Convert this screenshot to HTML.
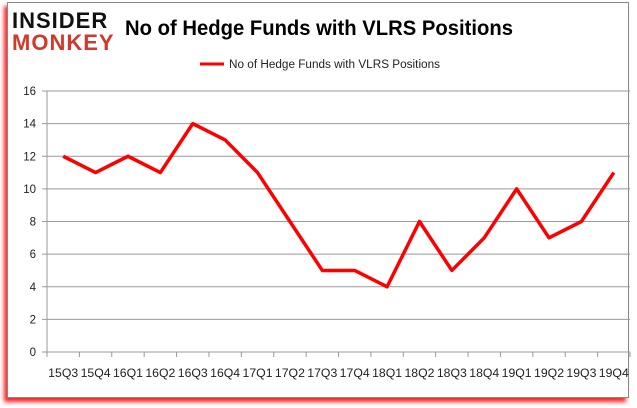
<!DOCTYPE html>
<html><head><meta charset="utf-8"><style>
body{margin:0;width:637px;height:408px;background:#fff;position:relative;overflow:hidden;font-family:"Liberation Sans",sans-serif}
#frame{position:absolute;left:7px;top:2px;width:620px;height:394px;border:1px solid #888;background:#fff;box-shadow:-3px 4px 4px #f22}
</style></head><body>
<div id="frame"></div>
<svg width="637" height="408" style="position:absolute;left:0;top:0">
<text x="12" y="28" font-size="22" font-weight="bold" fill="#111" style="letter-spacing:1px">INSIDER</text>
<text x="12" y="50" font-size="22" font-weight="bold" fill="#d0392b" style="letter-spacing:1px">MONKEY</text>
<text x="125" y="35" font-size="21" font-weight="bold" fill="#000" textLength="388" lengthAdjust="spacingAndGlyphs">No of Hedge Funds with VLRS Positions</text>
<line x1="200" y1="64" x2="224" y2="64" stroke="red" stroke-width="3"/>
<text x="229" y="68" font-size="11.5" fill="#222" textLength="211" lengthAdjust="spacingAndGlyphs">No of Hedge Funds with VLRS Positions</text>
<g id="grid"></g><g id="axes"></g><polyline id="line" fill="none" stroke="red" stroke-width="3.5" stroke-linejoin="round"/>
</svg>
<script>
const categories=["15Q3","15Q4","16Q1","16Q2","16Q3","16Q4","17Q1","17Q2","17Q3","17Q4","18Q1","18Q2","18Q3","18Q4","19Q1","19Q2","19Q3","19Q4"];
const values=[12,11,12,11,14,13,11,8,5,5,4,8,5,7,10,7,8,11];
const yTicks=[0,2,4,6,8,10,12,14,16];
const X0=47,X1=630,Y0=352,Y1=91,NS="http://www.w3.org/2000/svg";
const bw=(X1-X0)/categories.length;
const xs=i=>X0+bw*(i+0.5), ys=v=>Y0-(v/16)*(Y0-Y1);
const g=document.getElementById('grid'),a=document.getElementById('axes');
function mk(p,tag,at){const e=document.createElementNS(NS,tag);for(const k in at)e.setAttribute(k,at[k]);p.appendChild(e);return e;}
yTicks.forEach(t=>{const y=ys(t);
const l=mk(g,'line',{x1:X0-5,x2:X1,y1:y,y2:y,stroke:'#999','stroke-width':1});


const tx=mk(a,'text',{x:36,y:y+4,'font-size':11.5,'text-anchor':'end',fill:'#222'});tx.textContent=t;

});
mk(a,'line',{x1:X0,x2:X0,y1:Y1,y2:Y0,stroke:'#999'});
categories.forEach((c,i)=>{const x=X0+bw*(i+1);
mk(a,'line',{x1:x,x2:x,y1:Y0,y2:Y0+5,stroke:'#999'});
const tx=mk(a,'text',{x:xs(i),y:377,'font-size':11.5,'text-anchor':'middle',fill:'#222',textLength:30,lengthAdjust:'spacingAndGlyphs'});tx.textContent=c;

});
mk(a,'line',{x1:X0,x2:X0,y1:Y0,y2:Y0+5,stroke:'#999'});
document.getElementById('line').setAttribute('points',values.map((v,i)=>xs(i)+','+ys(v)).join(' '));
</script>
</body></html>
